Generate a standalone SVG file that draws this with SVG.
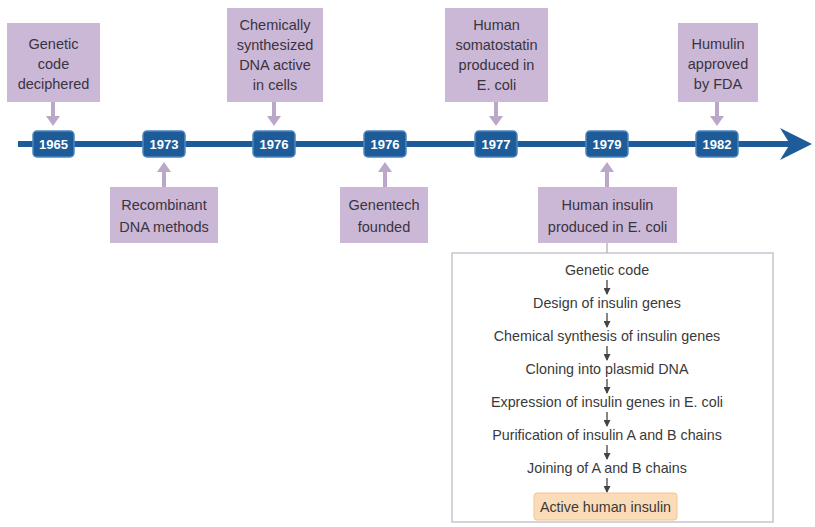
<svg xmlns="http://www.w3.org/2000/svg" width="815" height="527" viewBox="0 0 815 527">
<defs>
<style>
.ev{fill:#cbb8d6}
.evt{font-family:"Liberation Sans",Arial,sans-serif;font-size:14.5px;fill:#3a3340;text-anchor:middle}
.yr{fill:#1d5c98;stroke:#4f86bd;stroke-width:1.5}
.yt{font-family:"Liberation Sans",Arial,sans-serif;font-size:13px;font-weight:bold;fill:#ffffff;text-anchor:middle}
.ft{font-family:"Liberation Sans",Arial,sans-serif;font-size:14.3px;fill:#3a3a3a;text-anchor:middle}
.la{stroke:#bba8c8;stroke-width:4;fill:none}
.fa{stroke:#444;stroke-width:1.3;fill:none;marker-end:url(#ah)}
</style>
<marker id="ah" markerWidth="7" markerHeight="7" refX="6" refY="3.5" orient="auto" markerUnits="userSpaceOnUse">
<path d="M0,0 L7,3.5 L0,7 Z" fill="#444"/>
</marker>
</defs>
<rect width="815" height="527" fill="#ffffff"/>

<g id="process-box">
<rect x="452" y="253" width="321" height="269" fill="#ffffff" stroke="#c9c4d0" stroke-width="1.5"/>
</g>

<g id="connectors">
<path d="M18,144 H790" stroke="#1d5c98" stroke-width="6"/>
<path d="M780,128 L812,144 L780,160 L790,144 Z" fill="#1d5c98"/>
<g fill="#bba8c8">
<path class="la" d="M53,102 V117"/><path d="M46,116 L60,116 L53,126 Z"/>
<path class="la" d="M274,102 V117"/><path d="M267,116 L281,116 L274,126 Z"/>
<path class="la" d="M496,102 V117"/><path d="M489,116 L503,116 L496,126 Z"/>
<path class="la" d="M717,102 V117"/><path d="M710,116 L724,116 L717,126 Z"/>
<path class="la" d="M164,187 V171"/><path d="M157,172 L171,172 L164,162 Z"/>
<path class="la" d="M385,187 V171"/><path d="M378,172 L392,172 L385,162 Z"/>
<path class="la" d="M607,187 V171"/><path d="M600,172 L614,172 L607,162 Z"/>
</g>
<path d="M607,243 V253" stroke="#bbb" stroke-width="1.5"/>
<path class="fa" d="M607,280 V294"/>
<path class="fa" d="M607,313 V327"/>
<path class="fa" d="M607,346 V360"/>
<path class="fa" d="M607,379 V393"/>
<path class="fa" d="M607,412 V426"/>
<path class="fa" d="M607,445 V459"/>
<path class="fa" d="M607,478 V492"/>
</g>

<g id="y1965"><rect class="yr" x="33" y="131" width="41" height="26" rx="4"/><text class="yt" x="53.5" y="149">1965</text></g>
<g id="y1973"><rect class="yr" x="143" y="131" width="42" height="26" rx="4"/><text class="yt" x="164" y="149">1973</text></g>
<g id="y1976a"><rect class="yr" x="253" y="131" width="42" height="26" rx="4"/><text class="yt" x="274" y="149">1976</text></g>
<g id="y1976b"><rect class="yr" x="364" y="131" width="42" height="26" rx="4"/><text class="yt" x="385" y="149">1976</text></g>
<g id="y1977"><rect class="yr" x="475" y="131" width="42" height="26" rx="4"/><text class="yt" x="496" y="149">1977</text></g>
<g id="y1979"><rect class="yr" x="586" y="131" width="42" height="26" rx="4"/><text class="yt" x="607" y="149">1979</text></g>
<g id="y1982"><rect class="yr" x="696" y="131" width="42" height="26" rx="4"/><text class="yt" x="717" y="149">1982</text></g>

<g id="e-genetic"><rect class="ev" x="7" y="23" width="93" height="79"/>
<text class="evt" x="53.5" y="49">Genetic</text><text class="evt" x="53.5" y="69">code</text><text class="evt" x="53.5" y="89">deciphered</text></g>
<g id="e-recomb"><rect class="ev" x="110" y="187" width="108" height="56"/>
<text class="evt" x="164" y="210">Recombinant</text><text class="evt" x="164" y="232">DNA methods</text></g>
<g id="e-chem"><rect class="ev" x="227" y="8" width="96" height="94"/>
<text class="evt" x="275" y="30">Chemically</text><text class="evt" x="275" y="50">synthesized</text><text class="evt" x="275" y="70">DNA active</text><text class="evt" x="275" y="90">in cells</text></g>
<g id="e-genentech"><rect class="ev" x="340" y="187" width="88" height="56"/>
<text class="evt" x="384" y="210">Genentech</text><text class="evt" x="384" y="232">founded</text></g>
<g id="e-somato"><rect class="ev" x="445" y="8" width="103" height="94"/>
<text class="evt" x="496.5" y="30">Human</text><text class="evt" x="496.5" y="50">somatostatin</text><text class="evt" x="496.5" y="70">produced in</text><text class="evt" x="496.5" y="90">E. coli</text></g>
<g id="e-insulin"><rect class="ev" x="538" y="187" width="139" height="56"/>
<text class="evt" x="607.5" y="210">Human insulin</text><text class="evt" x="607.5" y="232">produced in E. coli</text></g>
<g id="e-humulin"><rect class="ev" x="678" y="23" width="80" height="79"/>
<text class="evt" x="718" y="49">Humulin</text><text class="evt" x="718" y="69">approved</text><text class="evt" x="718" y="89">by FDA</text></g>

<g id="process">
<text class="ft" x="607" y="275">Genetic code</text>
<text class="ft" x="607" y="308">Design of insulin genes</text>
<text class="ft" x="607" y="341">Chemical synthesis of insulin genes</text>
<text class="ft" x="607" y="374">Cloning into plasmid DNA</text>
<text class="ft" x="607" y="407">Expression of insulin genes in E. coli</text>
<text class="ft" x="607" y="440">Purification of insulin A and B chains</text>
<text class="ft" x="607" y="473">Joining of A and B chains</text>
<rect x="534" y="493" width="143" height="27" rx="3" fill="#fbdcb8" stroke="#f2c590" stroke-width="1"/>
<text class="ft" x="605.5" y="512">Active human insulin</text>
</g>
</svg>
